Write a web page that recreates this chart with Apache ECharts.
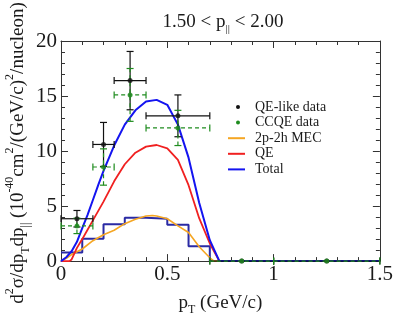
<!DOCTYPE html>
<html>
<head>
<meta charset="utf-8">
<script src="https://cdn.jsdelivr.net/npm/echarts@6/dist/echarts.min.js"></script>
<style>html,body{margin:0;padding:0;background:#fff}#c{width:396px;height:321px}</style>
</head>
<body>
<div id="c"></div>
<script>
// ---- data ----
var binCenters = [0.075, 0.2, 0.325, 0.55, 0.85, 1.25];
var binLow     = [0, 0.15, 0.25, 0.4, 0.7, 1.0];
var binHigh    = [0.15, 0.25, 0.4, 0.7, 1.0, 1.5];
var qeLikeData = [3.85, 10.6, 16.4, 13.2, 0, 0];
var qeLikeErr  = [0.75, 2.0, 2.65, 1.9, 0, 0];
var ccqeData   = [3.2, 8.55, 15.1, 12.1, 0, 0];
var ccqeErr    = [0.7, 1.65, 2.4, 1.6, 0, 0];

var totalX = [0, 0.025, 0.05, 0.075, 0.1, 0.125, 0.15, 0.175, 0.2, 0.25, 0.3, 0.35, 0.4, 0.45, 0.5, 0.55, 0.6, 0.65, 0.7, 0.745, 1.5];
var totalY = [0, 0.35, 0.9, 1.75, 3.0, 4.2, 5.55, 6.9, 8.2, 10.5, 12.4, 13.7, 14.5, 14.65, 14.2, 12.4, 9.4, 5.3, 1.9, 0, 0];
var qeX = [0, 0.04, 0.05, 0.075, 0.1, 0.125, 0.15, 0.2, 0.25, 0.3, 0.35, 0.4, 0.45, 0.5, 0.55, 0.6, 0.65, 0.7, 0.745, 1.5];
var qeY = [0, 0, 0.15, 1.2, 2.0, 2.85, 3.7, 5.4, 7.25, 8.8, 9.85, 10.4, 10.55, 10.25, 9.2, 6.9, 3.9, 1.6, 0, 0];
var mecX = [0, 0.025, 0.05, 0.075, 0.1, 0.15, 0.2, 0.25, 0.3, 0.35, 0.4, 0.43, 0.45, 0.5, 0.55, 0.6, 0.65, 0.7, 0.72, 1.5];
var mecY = [0, 0.25, 0.6, 0.85, 1.1, 1.85, 2.4, 2.8, 3.4, 3.8, 4.1, 4.15, 4.1, 3.85, 3.2, 2.6, 1.3, 0.3, 0, 0];
var histEdges = [0, 0.1, 0.2, 0.3, 0.4, 0.5, 0.6, 0.7, 1.5];
var histVals  = [0.78, 2.03, 3.35, 3.93, 3.85, 3.3, 1.34, 0, 0];

var legendNames = ['QE-like data', 'CCQE data', '2p-2h MEC', 'QE', 'Total'];
var xTicks = [0, 0.5, 1, 1.5];
var yTicks = [0, 5, 10, 15, 20];

// ---- build ----
function pairs(xs, ys) { return xs.map(function (x, i) { return [x, ys[i]]; }); }
function errRows(vals, errs) {
  return binCenters.map(function (x, i) {
    return [x, vals[i], binLow[i], binHigh[i], vals[i] - errs[i], vals[i] + errs[i]];
  });
}
function errRender(color, dash) {
  return function (params, api) {
    var x = api.value(0), y = api.value(1);
    var pl = api.coord([api.value(2), y]);
    var ph = api.coord([api.value(3), y]);
    var pb = api.coord([x, api.value(4)]);
    var pt = api.coord([x, api.value(5)]);
    var st = { stroke: color, lineWidth: 1.2, lineDash: dash };
    var cap = 3.5;
    var ch = [
      { type: 'line', shape: { x1: pl[0], y1: pl[1], x2: ph[0], y2: ph[1] }, style: st },
      { type: 'line', shape: { x1: pl[0], y1: pl[1] - cap, x2: pl[0], y2: pl[1] + cap }, style: { stroke: color, lineWidth: 1.2 } },
      { type: 'line', shape: { x1: ph[0], y1: ph[1] - cap, x2: ph[0], y2: ph[1] + cap }, style: { stroke: color, lineWidth: 1.2 } }
    ];
    if (api.value(5) > api.value(4)) {
      ch.push({ type: 'line', shape: { x1: pb[0], y1: pb[1], x2: pt[0], y2: pt[1] }, style: st });
      ch.push({ type: 'line', shape: { x1: pb[0] - cap, y1: pb[1], x2: pb[0] + cap, y2: pb[1] }, style: { stroke: color, lineWidth: 1.2 } });
      ch.push({ type: 'line', shape: { x1: pt[0] - cap, y1: pt[1], x2: pt[0] + cap, y2: pt[1] }, style: { stroke: color, lineWidth: 1.2 } });
    }
    return { type: 'group', children: ch };
  };
}

var FONT = '"Liberation Serif", "Times New Roman", serif';
var TXT = '#1a1a1a';
var axisLineStyle = { color: '#333', width: 1 };

function mkX(pos, labels) {
  return {
    type: 'value', position: pos, min: 0, max: 1.5, interval: 0.5,
    axisLine: { show: true, onZero: false, lineStyle: axisLineStyle },
    axisTick: { show: true, inside: true, length: 7, lineStyle: axisLineStyle },
    minorTick: { show: true, splitNumber: 5, length: 4, lineStyle: axisLineStyle },
    splitLine: { show: false },
    axisLabel: { show: labels, fontFamily: FONT, fontSize: 21, color: TXT, margin: 3,
      formatter: function (v) { return xTicks.indexOf(v) >= 0 ? String(v) : ''; } }
  };
}
function mkY(pos, labels) {
  return {
    type: 'value', position: pos, min: 0, max: 20, interval: 5,
    axisLine: { show: true, onZero: false, lineStyle: axisLineStyle },
    axisTick: { show: true, inside: true, length: 7, lineStyle: axisLineStyle },
    minorTick: { show: true, splitNumber: 5, length: 4, lineStyle: axisLineStyle },
    splitLine: { show: false },
    axisLabel: { show: labels, fontFamily: FONT, fontSize: 21, color: TXT, margin: 4,
      formatter: function (v) { return yTicks.indexOf(v) >= 0 ? String(v) : ''; } }
  };
}

var xb = mkX('bottom', true);
xb.name = 'p{sub|T} (GeV/c)';
xb.nameLocation = 'middle';
xb.nameGap = 20;
xb.nameTextStyle = { fontFamily: FONT, fontSize: 19, color: TXT, lineHeight: 26,
  rich: { sub: { fontFamily: FONT, fontSize: 12, verticalAlign: 'bottom', lineHeight: 12, color: TXT } } };

var colors = { black: '#111111', green: '#1f8c1f', orange: '#f5a623', red: '#f02020', blue: '#1414f0', hist: '#2a2aa4' };

var legendRowY = [107, 122.6, 138.2, 153.8, 169.4];
var legendGraphics = [];
legendGraphics.push({ type: 'circle', shape: { cx: 238, cy: legendRowY[0], r: 2 }, style: { fill: colors.black } });
legendGraphics.push({ type: 'circle', shape: { cx: 238, cy: legendRowY[1], r: 2 }, style: { fill: colors.green } });
[colors.orange, colors.red, colors.blue].forEach(function (c, i) {
  legendGraphics.push({ type: 'line', shape: { x1: 228, y1: legendRowY[i + 2], x2: 245, y2: legendRowY[i + 2] }, style: { stroke: c, lineWidth: 2 } });
});
legendNames.forEach(function (n, i) {
  legendGraphics.push({ type: 'text', x: 255, y: legendRowY[i], style: { text: n, fontFamily: FONT, fontSize: 14, fill: TXT, verticalAlign: 'middle', align: 'left' } });
});

var chart = echarts.init(document.getElementById('c'), null, { renderer: 'canvas' });
chart.setOption({
  animation: false,
  backgroundColor: '#fff',
  grid: { left: 61, right: 13, top: 41, bottom: 40, containLabel: false },
  xAxis: [xb, mkX('top', false)],
  yAxis: [mkY('left', true), mkY('right', false)],
  graphic: [
    { type: 'text', x: 223, y: 22, style: { text: '1.50 < p{sub|||} < 2.00', align: 'center', verticalAlign: 'middle',
      fontFamily: FONT, fontSize: 19, fill: TXT, lineHeight: 26,
      rich: { sub: { fontFamily: FONT, fontSize: 11, verticalAlign: 'bottom', lineHeight: 11, fill: TXT } } } },
    { type: 'text', x: 18, y: 153, rotation: Math.PI / 2,
      style: { text: 'd{sup|2}σ/dp{sub|T}dp{sub|||} (10{sup|-40}cm{sup|2}/(GeV/c){sup|2}/nucleon)', align: 'center', verticalAlign: 'middle',
        fontFamily: FONT, fontSize: 19, fill: TXT, lineHeight: 28,
        rich: {
          sup: { fontFamily: FONT, fontSize: 12, verticalAlign: 'top', lineHeight: 12, fill: TXT },
          sub: { fontFamily: FONT, fontSize: 12, verticalAlign: 'bottom', lineHeight: 12, fill: TXT }
        } } }
  ].concat(legendGraphics),
  series: [
    { name: 'Histogram', type: 'line', step: 'end', data: pairs(histEdges, histVals), showSymbol: false, symbol: 'none',
      lineStyle: { color: colors.hist, width: 2 }, z: 2 },
    { name: '2p-2h MEC', type: 'line', data: pairs(mecX, mecY), symbol: 'none', smooth: false, lineStyle: { color: colors.orange, width: 1.6 }, z: 3 },
    { name: 'QE', type: 'line', data: pairs(qeX, qeY), symbol: 'none', smooth: false, lineStyle: { color: colors.red, width: 1.8 }, z: 3 },
    { name: 'Total', type: 'line', data: pairs(totalX, totalY), symbol: 'none', smooth: false, lineStyle: { color: colors.blue, width: 2 }, z: 4 },
    { name: 'QE-like err', type: 'custom', data: errRows(qeLikeData, qeLikeErr), renderItem: errRender(colors.black, null), z: 5 },
    { name: 'CCQE err', type: 'custom', data: errRows(ccqeData, ccqeErr), renderItem: errRender(colors.green, [4, 3]), z: 6 },
    { name: 'QE-like data', type: 'scatter', data: pairs(binCenters, qeLikeData), symbol: 'circle', symbolSize: 5, itemStyle: { color: colors.black }, z: 7 },
    { name: 'CCQE data', type: 'scatter', data: pairs(binCenters, ccqeData), symbol: 'circle', symbolSize: 5, itemStyle: { color: colors.green }, z: 8 }
  ]
});
</script>
</body>
</html>
